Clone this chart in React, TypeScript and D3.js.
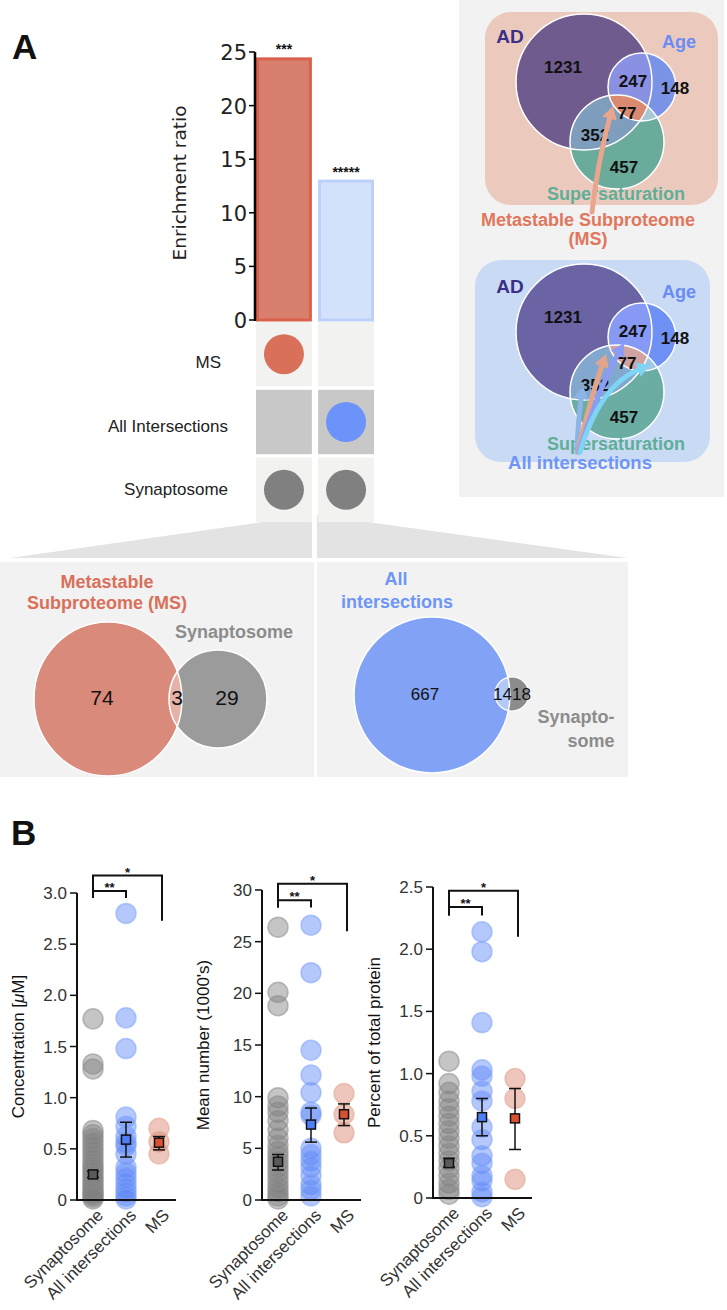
import React from "react";
import * as d3 from "d3";

// ---------------- Panel A: enrichment bars + membership matrix ----------------
const barCategories = ["MS", "All Intersections"];
const enrichmentRatio = [24.5, 13.1];
const enrichmentStars = ["***", "*****"];
const enrichmentTicks = [0, 5, 10, 15, 20, 25];
const matrixRows = ["MS", "All Intersections", "Synaptosome"];
const matrixMembership = [
  [1, 0, 1],
  [0, 1, 1],
];

// ---------------- Venn AD / Age / Supersaturation ----------------
const vennSetNames = ["AD", "Age", "Supersaturation"];
const vennRegionCounts = [1231, 247, 148, 77, 352, 457];

// ---------------- Overlap with synaptosome ----------------
const msOverlapCounts = [74, 3, 29];
const aiOverlapCounts = [667, 14, 18];

// ---------------- Panel B ----------------
const groupNames = ["Synaptosome", "All intersections", "MS"];

const concSynaptosome = [1.77, 1.33, 1.28, 0.68, 0.64, 0.6, 0.56, 0.52, 0.48, 0.44, 0.4, 0.36, 0.33, 0.3, 0.27, 0.24, 0.21, 0.18, 0.15, 0.12, 0.09, 0.07, 0.05, 0.03, 0.01];
const concAllIntersections = [2.8, 1.78, 1.48, 0.81, 0.72, 0.62, 0.56, 0.53, 0.45, 0.32, 0.27, 0.22, 0.17, 0.12, 0.08, 0.04, 0.01];
const concMS = [0.7, 0.57, 0.45];
const concMean = [0.25, 0.59, 0.56];
const concLow = [0.22, 0.42, 0.49];
const concHigh = [0.28, 0.76, 0.62];
const concTicks = [0, 0.5, 1, 1.5, 2, 2.5, 3];

const numSynaptosome = [26.4, 20.1, 18.8, 9.9, 9.1, 8.5, 7.7, 6.8, 6.0, 5.3, 4.7, 4.2, 3.7, 3.2, 2.7, 2.2, 1.7, 1.2, 0.8, 0.4, 0.1];
const numAllIntersections = [26.6, 22.0, 14.5, 12.1, 10.4, 8.5, 8.2, 5.0, 4.4, 3.8, 3.2, 2.4, 1.5, 1.0, 0.4];
const numMS = [10.3, 8.3, 6.5];
const numMean = [3.7, 7.3, 8.3];
const numLow = [2.9, 5.6, 7.2];
const numHigh = [4.4, 8.9, 9.3];
const numTicks = [0, 5, 10, 15, 20, 25, 30];

const pctSynaptosome = [1.1, 0.92, 0.85, 0.78, 0.72, 0.66, 0.6, 0.54, 0.48, 0.42, 0.36, 0.3, 0.24, 0.18, 0.12, 0.07, 0.03];
const pctAllIntersections = [2.14, 1.98, 1.41, 1.03, 0.98, 0.86, 0.78, 0.57, 0.47, 0.34, 0.28, 0.18, 0.14, 0.05, 0.01];
const pctMS = [0.96, 0.8, 0.15];
const pctMean = [0.28, 0.65, 0.64];
const pctLow = [0.25, 0.5, 0.39];
const pctHigh = [0.32, 0.8, 0.88];
const pctTicks = [0, 0.5, 1, 1.5, 2, 2.5];

const sigLabels = ["**", "*"];

const SANS = "'Liberation Sans', Arial, Helvetica, sans-serif";
const DEJA = "'DejaVu Sans', sans-serif";

// ---------- helpers ----------
function Arrow({ p, color, w }: { p: number[]; color: string; w: number }) {
  const [x0, y0, cx, cy, x1, y1] = p;
  const dx = x1 - cx, dy = y1 - cy;
  const L = Math.hypot(dx, dy);
  const ux = dx / L, uy = dy / L;
  const hl = 13, hw = 7.5;
  const bx = x1 - ux * hl, by = y1 - uy * hl;
  const px = -uy, py = ux;
  const path = d3.path();
  path.moveTo(x0, y0);
  path.quadraticCurveTo(cx, cy, bx + ux * 1, by + uy * 1);
  return (
    <g>
      <path d={path.toString()} fill="none" stroke={color} strokeWidth={w} strokeLinecap="round" />
      <polygon
        points={`${x1},${y1} ${bx + px * hw},${by + py * hw} ${bx - px * hw},${by - py * hw}`}
        fill={color}
      />
    </g>
  );
}

type Pal = { ad: string; age: string; adAge: string; sup: string; adSup: string; ageSup: string; all: string };

function VennTriple({ dy, pal, id }: { dy: number; pal: Pal; id: string }) {
  const c = [
    { x: 584, y: 82 + dy, r: 68 },
    { x: 642, y: 87 + dy, r: 34 },
    { x: 617, y: 142 + dy, r: 47 },
  ];
  const pos = [
    [563, 73],
    [633, 87],
    [675, 94],
    [627, 119],
    [595, 141],
    [624, 173],
  ];
  return (
    <g>
      <defs>
        {c.map((k, i) => (
          <clipPath id={`${id}${i}`} key={i}>
            <circle cx={k.x} cy={k.y} r={k.r} />
          </clipPath>
        ))}
      </defs>
      <circle cx={c[0].x} cy={c[0].y} r={c[0].r} fill={pal.ad} />
      <circle cx={c[1].x} cy={c[1].y} r={c[1].r} fill={pal.age} />
      <g clipPath={`url(#${id}0)`}>
        <circle cx={c[1].x} cy={c[1].y} r={c[1].r} fill={pal.adAge} />
      </g>
      <circle cx={c[2].x} cy={c[2].y} r={c[2].r} fill={pal.sup} />
      <g clipPath={`url(#${id}0)`}>
        <circle cx={c[2].x} cy={c[2].y} r={c[2].r} fill={pal.adSup} />
      </g>
      <g clipPath={`url(#${id}1)`}>
        <circle cx={c[2].x} cy={c[2].y} r={c[2].r} fill={pal.ageSup} />
      </g>
      <g clipPath={`url(#${id}0)`}>
        <g clipPath={`url(#${id}1)`}>
          <circle cx={c[2].x} cy={c[2].y} r={c[2].r} fill={pal.all} />
        </g>
      </g>
      {c.map((k, i) => (
        <circle key={i} cx={k.x} cy={k.y} r={k.r} fill="none" stroke="#fff" strokeWidth={1.5} />
      ))}
      {vennRegionCounts.map((v, i) => (
        <text key={i} x={pos[i][0]} y={pos[i][1] + dy} textAnchor="middle" fontFamily={SANS} fontWeight="bold" fontSize={17} fill="#111">
          {v}
        </text>
      ))}
      <text x={510} y={43 + dy} textAnchor="middle" fontFamily={SANS} fontWeight="bold" fontSize={19} fill="#3b2f86">
        {vennSetNames[0]}
      </text>
      <text x={679} y={48 + dy} textAnchor="middle" fontFamily={SANS} fontWeight="bold" fontSize={18} fill="#6b8cf5">
        {vennSetNames[1]}
      </text>
      <text x={616} y={200 + dy} textAnchor="middle" fontFamily={SANS} fontWeight="bold" fontSize={18} fill="#5fae98">
        {vennSetNames[2]}
      </text>
    </g>
  );
}

type ChartCfg = {
  axisX: number;
  yTop: number;
  yBottom: number;
  max: number;
  ticks: number[];
  fmt: (d: number) => string;
  label: React.ReactNode;
  series: number[][];
  mean: number[];
  low: number[];
  high: number[];
  br: number[]; // outer, inner, innerLegEnd, outerRightLegEnd
};

const groupFill = ["#7e7e7e", "#5a86f7", "#d9806a"];
const groupStroke = ["#8a8a8a", "#7ea2f9", "#e0a08e"];
const meanFill = ["#5a5a5a", "#4f7ff7", "#d9502f"];

function DotChart({ cfg }: { cfg: ChartCfg }) {
  const y = d3.scaleLinear().domain([0, cfg.max]).range([cfg.yBottom, cfg.yTop]);
  const x = d3.scalePoint<string>().domain(groupNames).range([cfg.axisX + 16, cfg.axisX + 82]);
  const xEnd = cfg.axisX + 99;
  const x1 = x(groupNames[0])!, x2 = x(groupNames[1])!, x3 = x(groupNames[2])! + 3;
  const [bo, bi, bl, br] = cfg.br;
  const midY = (cfg.yTop + cfg.yBottom) / 2;
  return (
    <g>
      {cfg.series.map((s, gi) =>
        s.map((v, i) => (
          <circle
            key={`${gi}-${i}`}
            cx={x(groupNames[gi])}
            cy={y(v)}
            r={10}
            fill={groupFill[gi]}
            fillOpacity={0.45}
            stroke={groupStroke[gi]}
            strokeOpacity={0.55}
            strokeWidth={1.5}
          />
        ))
      )}
      <line x1={cfg.axisX} x2={cfg.axisX} y1={cfg.yTop} y2={cfg.yBottom + 1} stroke="#111" strokeWidth={2} />
      <line x1={cfg.axisX - 1} x2={xEnd} y1={cfg.yBottom} y2={cfg.yBottom} stroke="#111" strokeWidth={2} />
      {cfg.ticks.map((t) => (
        <g key={t}>
          <line x1={cfg.axisX - 7} x2={cfg.axisX} y1={y(t)} y2={y(t)} stroke="#111" strokeWidth={1.5} />
          <text x={cfg.axisX - 10} y={y(t) + 6} textAnchor="end" fontFamily={SANS} fontSize={17} fill="#333">
            {cfg.fmt(t)}
          </text>
        </g>
      ))}
      {groupNames.map((g, gi) => {
        const cx = x(g)!;
        return (
          <g key={g}>
            <line x1={cx} x2={cx} y1={y(cfg.low[gi])} y2={y(cfg.high[gi])} stroke="#111" strokeWidth={1.5} />
            <line x1={cx - 6} x2={cx + 6} y1={y(cfg.low[gi])} y2={y(cfg.low[gi])} stroke="#111" strokeWidth={1.5} />
            <line x1={cx - 6} x2={cx + 6} y1={y(cfg.high[gi])} y2={y(cfg.high[gi])} stroke="#111" strokeWidth={1.5} />
            <rect x={cx - 4.5} y={y(cfg.mean[gi]) - 4.5} width={9} height={9} fill={meanFill[gi]} stroke="#111" strokeWidth={1.5} />
          </g>
        );
      })}
      <path d={`M${x1},${y(bl)}V${y(bi)}H${x2}V${y(bl)}`} fill="none" stroke="#111" strokeWidth={2} />
      <path d={`M${x1},${y(bl)}V${y(bo)}H${x3}V${y(br)}`} fill="none" stroke="#111" strokeWidth={2} />
      <text x={(x1 + x2) / 2} y={y(bi) + 1} textAnchor="middle" fontFamily={SANS} fontWeight="bold" fontSize={13} fill="#111">
        {sigLabels[0]}
      </text>
      <text x={(x1 + x3) / 2} y={y(bo) + 1} textAnchor="middle" fontFamily={SANS} fontWeight="bold" fontSize={13} fill="#111">
        {sigLabels[1]}
      </text>
      {groupNames.map((g) => (
        <text
          key={g}
          transform={`translate(${x(g)! + 7},${cfg.yBottom + 12}) rotate(-45)`}
          textAnchor="end"
          dy="0.35em"
          fontFamily={SANS}
          fontSize={17}
          fill="#333"
        >
          {g}
        </text>
      ))}
      <text
        transform={`translate(${cfg.axisX - 53},${midY}) rotate(-90)`}
        textAnchor="middle"
        fontFamily={SANS}
        fontSize={17}
        fill="#111"
      >
        {cfg.label}
      </text>
    </g>
  );
}

export default function App() {
  const yBar = d3.scaleLinear().domain([0, 25]).range([320, 52]);
  const xBar = d3.scaleBand<string>().domain(barCategories).range([256, 374]).paddingInner(0.1);
  const yRow = d3.scaleBand<string>().domain(matrixRows).range([322, 522]).paddingInner(0.05);
  const barFill = ["#d8806d", "#d4e1fb"];
  const barStroke = ["#d9604b", "#bcd0f9"];
  const dotColor = ["#d9705a", "#6b93f9", "#808080"];
  const labelBase = [368, 432, 495];

  const charts: ChartCfg[] = [
    {
      axisX: 77, yTop: 893, yBottom: 1200, max: 3, ticks: concTicks,
      fmt: (d) => (d === 0 ? "0" : d.toFixed(1)),
      label: (
        <>
          Concentration [<tspan fontStyle="italic">μ</tspan>M]
        </>
      ),
      series: [concSynaptosome, concAllIntersections, concMS],
      mean: concMean, low: concLow, high: concHigh,
      br: [3.17, 3.02, 2.95, 2.73],
    },
    {
      axisX: 262, yTop: 890, yBottom: 1200, max: 30, ticks: numTicks,
      fmt: (d) => String(d),
      label: "Mean number (1000's)",
      series: [numSynaptosome, numAllIntersections, numMS],
      mean: numMean, low: numLow, high: numHigh,
      br: [30.6, 29.0, 28.3, 26.0],
    },
    {
      axisX: 433, yTop: 887, yBottom: 1198, max: 2.5, ticks: pctTicks,
      fmt: (d) => (d === 0 ? "0" : d.toFixed(1)),
      label: "Percent of total protein",
      series: [pctSynaptosome, pctAllIntersections, pctMS],
      mean: pctMean, low: pctLow, high: pctHigh,
      br: [2.47, 2.34, 2.27, 2.1],
    },
  ];

  return (
    <svg width={727} height={1310} style={{ position: "absolute", left: 0, top: 0, background: "#fff" }}>
      <rect x={0} y={0} width={727} height={1310} fill="#fff" />
      {/* ================= Panel A ================= */}
      <text x={12} y={59} fontFamily={SANS} fontWeight="bold" fontSize={35} fill="#111">A</text>

      <rect x={459} y={0} width={265} height={497} fill="#f2f2f2" />

      <polygon points="312,515 312,558 10,558" fill="#e3e3e3" />
      <polygon points="317,515 317,558 628,558" fill="#e3e3e3" />

      {barCategories.map((c, i) => (
        <g key={c}>
          <rect
            x={xBar(c)! + 1.5}
            y={yBar(enrichmentRatio[i]) + 1.5}
            width={xBar.bandwidth() - 3}
            height={yBar(0) - yBar(enrichmentRatio[i]) - 1.5}
            fill={barFill[i]}
            stroke={barStroke[i]}
            strokeWidth={3}
          />
          <text x={xBar(c)! + xBar.bandwidth() / 2} y={yBar(enrichmentRatio[i]) - 3} textAnchor="middle" fontFamily={SANS} fontWeight="bold" fontSize={14} fill="#111">
            {enrichmentStars[i]}
          </text>
        </g>
      ))}
      <line x1={255} x2={255} y1={yBar(25)} y2={yBar(0) + 1} stroke="#000" strokeWidth={2.5} />
      {enrichmentTicks.map((t) => (
        <g key={t}>
          <line x1={249} x2={255} y1={yBar(t)} y2={yBar(t)} stroke="#000" strokeWidth={1.5} />
          <text x={247} y={yBar(t) + 8} textAnchor="end" fontFamily={DEJA} fontSize={21} fill="#222">
            {t}
          </text>
        </g>
      ))}
      <text transform={`translate(186,183) rotate(-90)`} textAnchor="middle" fontFamily={DEJA} fontSize={18.5} fill="#222">
        Enrichment ratio
      </text>

      {matrixRows.map((r, ri) => (
        <g key={r}>
          {barCategories.map((c) => (
            <rect key={c} x={xBar(c)!} y={yRow(r)!} width={xBar.bandwidth()} height={yRow.bandwidth()} fill={ri === 1 ? "#c8c8c8" : "#f2f2f1"} />
          ))}
          <text x={ri === 0 ? 221 : 228} y={labelBase[ri]} textAnchor="end" fontFamily={SANS} fontSize={17} fill="#222">
            {r}
          </text>
        </g>
      ))}
      {barCategories.map((c, ci) =>
        matrixRows.map((r, ri) =>
          matrixMembership[ci][ri] ? (
            <circle key={`${c}-${r}`} cx={xBar(c)! + xBar.bandwidth() / 2} cy={yRow(r)! + yRow.bandwidth() / 2} r={20} fill={dotColor[ri]} />
          ) : null
        )
      )}

      {/* ---- top-right Venn (MS) ---- */}
      <rect x={485} y={12} width={233} height={193} rx={26} fill="#ebcabd" />
      <VennTriple
        dy={0}
        id="vt"
        pal={{ ad: "#6f5b8d", age: "#7a93e6", adAge: "#8a90e2", sup: "#6aab9b", adSup: "#7f9dbd", ageSup: "#a8c7d4", all: "#d98a70" }}
      />
      <Arrow p={[592, 212, 598, 160, 613, 106]} color="#e9a58d" w={5} />
      <text x={588} y={226} textAnchor="middle" fontFamily={SANS} fontWeight="bold" fontSize={18} fill="#e0775c">
        Metastable Subproteome
      </text>
      <text x={588} y={245} textAnchor="middle" fontFamily={SANS} fontWeight="bold" fontSize={18} fill="#e0775c">
        (MS)
      </text>

      {/* ---- bottom-right Venn (All intersections) ---- */}
      <rect x={475} y={260} width={235} height={202} rx={26} fill="#c9daf5" />
      <VennTriple
        dy={250}
        id="vb"
        pal={{ ad: "#6a64a5", age: "#6f90f4", adAge: "#8599f5", sup: "#6cada3", adSup: "#82a8cf", ageSup: "#a0c8e0", all: "#d0a3a0" }}
      />
      <Arrow p={[577, 452, 578, 420, 583, 386]} color="#8db4e6" w={5} />
      <Arrow p={[578, 452, 590, 400, 606, 354]} color="#e2a58b" w={5} />
      <Arrow p={[579, 452, 598, 390, 624, 343]} color="#8b9cf4" w={5} />
      <Arrow p={[580, 452, 600, 385, 650, 365]} color="#7fd3f4" w={5} />
      <text x={580} y={469} textAnchor="middle" fontFamily={SANS} fontWeight="bold" fontSize={18.5} fill="#6e96f7">
        All intersections
      </text>

      {/* ---- bottom overlap panels ---- */}
      <defs>
        <clipPath id="msclip">
          <ellipse cx={108} cy={699} rx={74} ry={77} />
        </clipPath>
        <clipPath id="aiclip">
          <circle cx={432} cy={695} r={78} />
        </clipPath>
      </defs>
      <rect x={0} y={562} width={314} height={215} fill="#f2f2f2" />
      <rect x={317} y={562} width={311} height={215} fill="#f2f2f2" />

      <ellipse cx={108} cy={699} rx={74} ry={77} fill="#d98a7a" />
      <circle cx={218} cy={699} r={49} fill="#9b9b9b" />
      <g clipPath="url(#msclip)">
        <circle cx={218} cy={699} r={49} fill="#e4b2a7" />
      </g>
      <ellipse cx={108} cy={699} rx={74} ry={77} fill="none" stroke="#fff" strokeWidth={1.5} />
      <circle cx={218} cy={699} r={49} fill="none" stroke="#fff" strokeWidth={1.5} />
      <text x={107} y={588} textAnchor="middle" fontFamily={SANS} fontWeight="bold" fontSize={18} fill="#d9705a">Metastable</text>
      <text x={107} y={609} textAnchor="middle" fontFamily={SANS} fontWeight="bold" fontSize={18} fill="#d9705a">Subproteome (MS)</text>
      <text x={234} y={638} textAnchor="middle" fontFamily={SANS} fontWeight="bold" fontSize={18} fill="#8c8c8c">Synaptosome</text>
      {msOverlapCounts.map((v, i) => (
        <text key={i} x={[102, 177, 227][i]} y={705} textAnchor="middle" fontFamily={SANS} fontSize={21} fill="#111">
          {v}
        </text>
      ))}

      <circle cx={432} cy={695} r={78} fill="#82a3f5" />
      <circle cx={512} cy={694} r={17} fill="#8c8c8c" />
      <g clipPath="url(#aiclip)">
        <circle cx={512} cy={694} r={17} fill="#b2c9f8" />
      </g>
      <circle cx={432} cy={695} r={78} fill="none" stroke="#fff" strokeWidth={1.5} />
      <circle cx={512} cy={694} r={17} fill="none" stroke="#fff" strokeWidth={1.2} />
      <text x={396} y={585} textAnchor="middle" fontFamily={SANS} fontWeight="bold" fontSize={18} fill="#6e96f7">All</text>
      <text x={397} y={608} textAnchor="middle" fontFamily={SANS} fontWeight="bold" fontSize={18} fill="#6e96f7">intersections</text>
      <text x={425} y={700} textAnchor="middle" fontFamily={SANS} fontSize={17} fill="#111">{aiOverlapCounts[0]}</text>
      <text x={512} y={700} textAnchor="end" fontFamily={SANS} fontSize={17} fill="#111">{aiOverlapCounts[1]}</text>
      <text x={512} y={700} textAnchor="start" fontFamily={SANS} fontSize={17} fill="#111">{aiOverlapCounts[2]}</text>
      <text x={576} y={723} textAnchor="middle" fontFamily={SANS} fontWeight="bold" fontSize={18} fill="#8c8c8c">Synapto-</text>
      <text x={591} y={747} textAnchor="middle" fontFamily={SANS} fontWeight="bold" fontSize={18} fill="#8c8c8c">some</text>

      {/* ================= Panel B ================= */}
      <text x={11} y={845} fontFamily={SANS} fontWeight="bold" fontSize={35} fill="#111">B</text>
      {charts.map((c, i) => (
        <DotChart key={i} cfg={c} />
      ))}
    </svg>
  );
}
